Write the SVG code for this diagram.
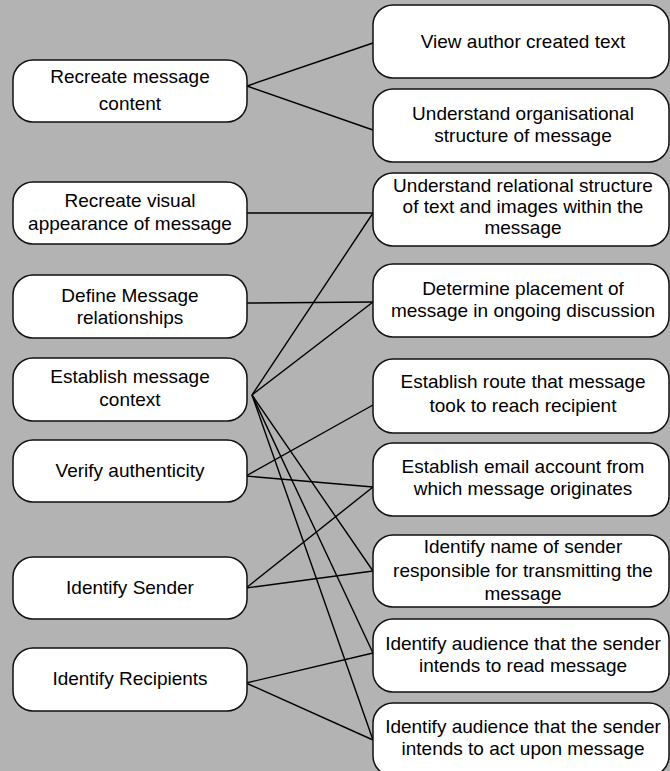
<svg xmlns="http://www.w3.org/2000/svg" width="670" height="771" viewBox="0 0 670 771">
<style>
.bg{fill:#b3b3b3}
.box{fill:#fff;stroke:#111;stroke-width:1.5}
.t{font-family:"Liberation Sans",Arial,sans-serif;font-size:19px;fill:#000;text-anchor:middle}
.c line{stroke:#000;stroke-width:1.4}
</style>
<rect class="bg" x="0" y="0" width="670" height="771"/>
<g id="connectors" class="c">
<line x1="247" y1="86" x2="373" y2="43"/>
<line x1="247" y1="86" x2="373" y2="130"/>
<line x1="247" y1="213" x2="373" y2="213"/>
<line x1="247" y1="303" x2="373" y2="302"/>
<line x1="252" y1="395" x2="373" y2="213"/>
<line x1="252" y1="395" x2="373" y2="302"/>
<line x1="252" y1="395" x2="373" y2="571"/>
<line x1="252" y1="395" x2="373" y2="653"/>
<line x1="252" y1="395" x2="373" y2="740"/>
<line x1="246" y1="476" x2="373" y2="405"/>
<line x1="246" y1="476" x2="373" y2="487"/>
<line x1="246" y1="588" x2="373" y2="487"/>
<line x1="246" y1="588" x2="373" y2="571"/>
<line x1="246" y1="683" x2="373" y2="653"/>
<line x1="246" y1="683" x2="373" y2="740"/>
</g>
<g id="n-recreate-content"><rect class="box" x="13" y="60" width="234" height="62" rx="20"/><text class="t" x="130" y="83">Recreate message</text><text class="t" x="130" y="110">content</text></g>
<g id="n-recreate-visual"><rect class="box" x="13" y="182" width="234" height="62" rx="20"/><text class="t" x="130" y="207">Recreate visual</text><text class="t" x="130" y="230">appearance of message</text></g>
<g id="n-define"><rect class="box" x="13" y="275" width="234" height="63" rx="20"/><text class="t" x="130" y="302">Define Message</text><text class="t" x="130" y="324">relationships</text></g>
<g id="n-establish-context"><rect class="box" x="13" y="358" width="234" height="63" rx="20"/><text class="t" x="130" y="383">Establish message</text><text class="t" x="130" y="406">context</text></g>
<g id="n-verify"><rect class="box" x="13" y="440" width="234" height="62" rx="20"/><text class="t" x="130" y="477">Verify authenticity</text></g>
<g id="n-sender"><rect class="box" x="13" y="557" width="234" height="62" rx="20"/><text class="t" x="130" y="594">Identify Sender</text></g>
<g id="n-recipients"><rect class="box" x="13" y="648" width="234" height="63" rx="20"/><text class="t" x="130" y="685">Identify Recipients</text></g>
<g id="n-view-author"><rect class="box" x="373" y="5" width="296" height="73" rx="20"/><text class="t" x="523" y="48">View author created text</text></g>
<g id="n-org-structure"><rect class="box" x="373" y="89" width="296" height="73" rx="20"/><text class="t" x="523" y="120">Understand organisational</text><text class="t" x="523" y="142">structure of message</text></g>
<g id="n-rel-structure"><rect class="box" x="373" y="173" width="296" height="73" rx="20"/><text class="t" x="523" y="192">Understand relational structure</text><text class="t" x="523" y="213">of text and images within the</text><text class="t" x="523" y="234">message</text></g>
<g id="n-placement"><rect class="box" x="373" y="264" width="296" height="73" rx="20"/><text class="t" x="523" y="295">Determine placement of</text><text class="t" x="523" y="317">message in ongoing discussion</text></g>
<g id="n-route"><rect class="box" x="373" y="359" width="296" height="74" rx="20"/><text class="t" x="523" y="388">Establish route that message</text><text class="t" x="523" y="412">took to reach recipient</text></g>
<g id="n-email"><rect class="box" x="373" y="443" width="296" height="73" rx="20"/><text class="t" x="523" y="473">Establish email account from</text><text class="t" x="523" y="495">which message originates</text></g>
<g id="n-name"><rect class="box" x="373" y="535" width="296" height="72" rx="20"/><text class="t" x="523" y="553">Identify name of sender</text><text class="t" x="523" y="577">responsible for transmitting the</text><text class="t" x="523" y="600">message</text></g>
<g id="n-read"><rect class="box" x="373" y="619" width="296" height="73" rx="20"/><text class="t" x="523" y="650">Identify audience that the sender</text><text class="t" x="523" y="672">intends to read message</text></g>
<g id="n-act"><rect class="box" x="373" y="703" width="296" height="73" rx="20"/><text class="t" x="523" y="733">Identify audience that the sender</text><text class="t" x="523" y="755">intends to act upon message</text></g>
</svg>
